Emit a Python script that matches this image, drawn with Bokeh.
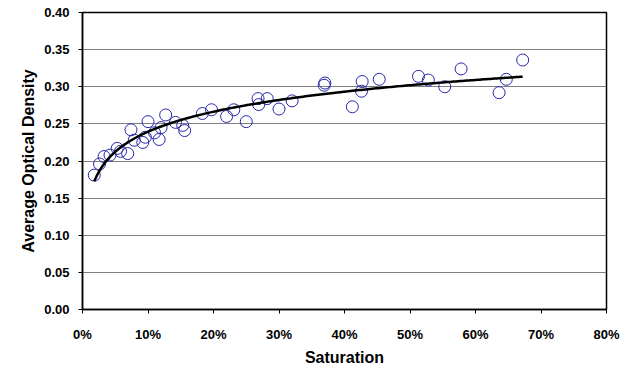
import numpy as np
from bokeh.plotting import figure
from bokeh.models import Range1d, NumeralTickFormatter, FixedTicker, ColumnDataSource
from bokeh.embed import file_html
from bokeh.resources import INLINE

# Data (saturation as fraction, average optical density)
saturation = [0.018, 0.026, 0.033, 0.042, 0.053, 0.058, 0.069, 0.074, 0.079, 0.092,
              0.096, 0.100, 0.110, 0.117, 0.120, 0.127, 0.142, 0.153, 0.156, 0.183,
              0.197, 0.220, 0.231, 0.250, 0.268, 0.269, 0.282, 0.300, 0.320, 0.369,
              0.370, 0.412, 0.426, 0.427, 0.453, 0.513, 0.528, 0.553, 0.578, 0.636,
              0.647, 0.672]
density = [0.181, 0.196, 0.206, 0.208, 0.217, 0.213, 0.210, 0.242, 0.228, 0.225,
           0.232, 0.253, 0.238, 0.229, 0.245, 0.262, 0.252, 0.248, 0.241, 0.264,
           0.269, 0.260, 0.269, 0.253, 0.284, 0.276, 0.284, 0.270, 0.281, 0.302,
           0.305, 0.273, 0.294, 0.307, 0.310, 0.314, 0.309, 0.300, 0.324, 0.292,
           0.310, 0.336]
x_ticks = [0.0, 0.1, 0.2, 0.3, 0.4, 0.5, 0.6, 0.7, 0.8]
y_ticks = [0.0, 0.05, 0.10, 0.15, 0.20, 0.25, 0.30, 0.35, 0.40]

# Logarithmic trend line fitted to the data
xs = np.array(saturation)
ys = np.array(density)
b, a = np.polyfit(np.log(xs), ys, 1)
trend_x = np.linspace(xs.min(), xs.max(), 200)
trend_y = a + b * np.log(trend_x)

FONT = "Liberation Sans"

p = figure(width=625, height=372, output_backend="svg", toolbar_location=None,
           x_range=Range1d(0, 0.8), y_range=Range1d(0, 0.4),
           min_border_left=82, min_border_right=19, min_border_top=12, min_border_bottom=63)
p.background_fill_color = "white"
p.border_fill_color = "white"
p.outline_line_color = "black"
p.outline_line_width = 1.5

src = ColumnDataSource(dict(x=saturation, y=density))
p.scatter("x", "y", source=src, marker="circle", size=12, fill_color=None,
          line_color="#2828A8", line_width=1)
p.line(trend_x, trend_y, line_color="black", line_width=2.5)

p.xaxis.ticker = FixedTicker(ticks=x_ticks)
p.yaxis.ticker = FixedTicker(ticks=y_ticks)
p.xaxis.formatter = NumeralTickFormatter(format="0%")
p.yaxis.formatter = NumeralTickFormatter(format="0.00")

for ax in (p.xaxis, p.yaxis):
    ax.axis_line_color = "black"
    ax.axis_line_width = 1.5
    ax.major_tick_line_color = "black"
    ax.major_tick_in = 0
    ax.major_tick_out = 4
    ax.minor_tick_line_color = None
    ax.major_label_text_font = FONT
    ax.major_label_text_font_size = "13px"
    ax.major_label_text_font_style = "bold"
    ax.major_label_text_color = "black"
    ax.axis_label_text_font = FONT
    ax.axis_label_text_font_size = "16px"
    ax.axis_label_text_font_style = "bold"
    ax.axis_label_text_color = "black"

p.xaxis.axis_label = "Saturation"
p.yaxis.axis_label = "Average Optical Density"
p.xaxis.major_label_standoff = 13
p.xaxis.axis_label_standoff = 4
p.yaxis.major_label_standoff = 9
p.yaxis.axis_label_standoff = 4

p.xgrid.grid_line_color = None
p.ygrid.grid_line_color = "#808080"
p.ygrid.grid_line_width = 1

open("out.html", "w").write(file_html(p, INLINE))
